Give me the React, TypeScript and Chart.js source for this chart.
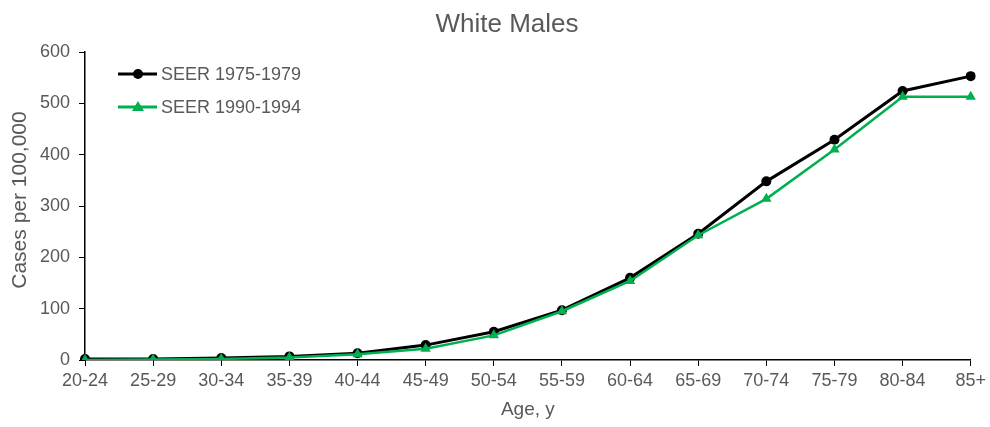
import React, { useEffect, useRef } from "react";
import { Chart, registerables } from "chart.js";

Chart.register(...registerables);

const categories = ["20-24", "25-29", "30-34", "35-39", "40-44", "45-49", "50-54", "55-59", "60-64", "65-69", "70-74", "75-79", "80-84", "85+"];
const seer7579 = [2, 2, 4, 7, 13, 29, 55, 97, 160, 246, 348, 429, 524, 553];
const seer9094 = [0, 1, 2, 5, 11, 22, 48, 95, 154, 243, 314, 410, 513, 513];
const yTicks = [0, 100, 200, 300, 400, 500, 600];

const GREY = "#595959";
const GREEN = "#00B050";
const FONT = "'Liberation Sans', Arial, sans-serif";

const textPlugin = {
  id: "customText",
  afterDraw(chart: any) {
    const ctx = chart.ctx;
    ctx.save();
    // title
    ctx.fillStyle = GREY;
    ctx.font = `26px ${FONT}`;
    ctx.textAlign = "center";
    ctx.textBaseline = "middle";
    ctx.fillText("White Males", 507, 25);
    // y axis title
    ctx.save();
    ctx.translate(20, 200);
    ctx.rotate(-Math.PI / 2);
    ctx.font = `21px ${FONT}`;
    ctx.fillText("Cases per 100,000", 0, 0);
    ctx.restore();
    // legend
    const items = [
      { label: "SEER 1975-1979", color: "#000000", style: "circle", y: 74 },
      { label: "SEER 1990-1994", color: GREEN, style: "triangle", y: 107 },
    ];
    items.forEach((it) => {
      ctx.strokeStyle = it.color;
      ctx.fillStyle = it.color;
      ctx.lineWidth = 3;
      ctx.beginPath();
      ctx.moveTo(118, it.y);
      ctx.lineTo(157, it.y);
      ctx.stroke();
      ctx.beginPath();
      if (it.style === "circle") {
        ctx.arc(138, it.y, 5, 0, Math.PI * 2);
      } else {
        ctx.moveTo(138, it.y - 6);
        ctx.lineTo(144, it.y + 4);
        ctx.lineTo(132, it.y + 4);
        ctx.closePath();
      }
      ctx.fill();
      ctx.fillStyle = GREY;
      ctx.font = `18px ${FONT}`;
      ctx.textAlign = "left";
      ctx.textBaseline = "middle";
      ctx.fillText(it.label, 161, it.y + 1);
    });
    ctx.restore();
  },
};

export default function App() {
  const ref = useRef<HTMLCanvasElement>(null);
  useEffect(() => {
    document.body.style.margin = "0";
    const chart = new Chart(ref.current!, {
      type: "line",
      data: {
        labels: categories,
        datasets: [
          {
            label: "SEER 1975-1979",
            data: seer7579,
            borderColor: "#000000",
            backgroundColor: "#000000",
            borderWidth: 3,
            pointStyle: "circle",
            pointRadius: 5,
            pointBorderWidth: 0,
            tension: 0,
            order: 1,
          },
          {
            label: "SEER 1990-1994",
            data: seer9094,
            borderColor: GREEN,
            backgroundColor: GREEN,
            borderWidth: 2.5,
            pointStyle: "triangle",
            pointRadius: 6,
            pointBorderWidth: 0,
            tension: 0,
            order: 0,
          },
        ],
      },
      options: {
        animation: false,
        responsive: false,
        maintainAspectRatio: false,
        layout: { padding: { left: 0, right: 18, top: 52, bottom: 0 } },
        plugins: {
          legend: { display: false },
          tooltip: { enabled: false },
          title: { display: false },
        },
        scales: {
          x: {
            type: "category",
            offset: false,
            grid: { display: true, drawOnChartArea: false, drawTicks: true, tickLength: 6, color: "#000000", lineWidth: 1 },
            border: { display: true, color: "#000000", width: 1.5 },
            ticks: { color: GREY, font: { family: FONT, size: 18 }, padding: 4, maxRotation: 0, autoSkip: false },
            title: { display: true, text: "Age, y", color: GREY, font: { family: FONT, size: 19, lineHeight: 1.2 }, padding: { top: 4, bottom: 6 } },
            afterFit(scale: any) {
              scale.height = 67;
            },
          },
          y: {
            min: 0,
            max: 600,
            afterBuildTicks(scale: any) {
              scale.ticks = yTicks.map((v) => ({ value: v }));
            },
            grid: { display: true, drawOnChartArea: false, drawTicks: true, tickLength: 6, color: "#000000", lineWidth: 1 },
            border: { display: true, color: "#000000", width: 1.5 },
            ticks: { color: GREY, font: { family: FONT, size: 18 }, padding: 9 },
            afterFit(scale: any) {
              scale.width = 85;
            },
          },
        },
      },
      plugins: [textPlugin],
    });
    return () => chart.destroy();
  }, []);
  return (
    <div style={{ position: "fixed", left: 0, top: 0, width: 990, height: 427 }}>
      <canvas ref={ref} width={990} height={427} style={{ width: 990, height: 427 }} />
    </div>
  );
}
